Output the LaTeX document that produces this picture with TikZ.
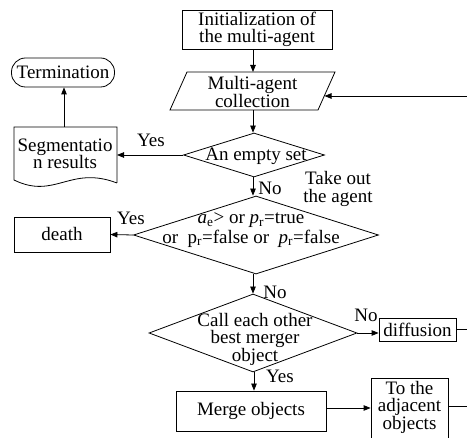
\documentclass[tikz,border=0pt]{standalone}
\usepackage{fontspec}
\setmainfont{Liberation Serif}
\usetikzlibrary{shapes.geometric,arrows.meta}
\begin{document}
\begin{tikzpicture}[x=1pt,y=-1pt,
  every node/.style={font=\fontsize{19}{17.5}\selectfont, inner sep=0pt, align=center},
  box/.style={draw, line width=0.8pt},
  dia/.style={draw, diamond, line width=0.8pt, inner sep=0pt},
  lab/.style={font=\fontsize{19}{17.5}\selectfont},
  arr/.style={line width=0.8pt, -{Triangle[length=7pt,width=5.5pt]}},
  ln/.style={line width=0.8pt}]
\useasboundingbox (0,0) rectangle (467,438);
\clip (0,0) rectangle (467,438);
% init
\node[box, minimum width=150, minimum height=39] (init) at (257,29.5) {Initialization of\\the multi-agent};
% collection parallelogram
\node[minimum width=148, minimum height=38] (coll) at (252.5,92) {Multi-agent\\collection};
\draw[ln] (187,72) -- (335,72) -- (318,110) -- (170,110) -- cycle;
\coordinate (collin) at (324.5,96);
\coordinate (loopR) at (467,96);
% termination
\node[box, rounded corners=14, minimum width=103, minimum height=29] (term) at (63,72.5) {Termination};
% segmentation document
\node (seg) at (65,154) {Segmentatio\\n results};
\draw[ln] (117,183) -- (117,127) -- (14,127) -- (14,180) .. controls (55,200) and (70,165) .. (117,183);
\coordinate (segtop) at (64,127);
\coordinate (segright) at (117,155);
% diamond 1
\node[dia, minimum width=141, minimum height=44] (d1) at (254,155) {};
\node at (256,156) {An empty set};
% diamond 2
\node[dia, minimum width=245, minimum height=78] (d2) at (256,235) {};
\node (d2a) at (251,220) {\textit{a}\textsubscript{e}> or \textit{p}\textsubscript{r}=true};
\node (d2b) at (251,238.5) {or\ \ p\textsubscript{r}=false or\ \ \textit{p}\textsubscript{r}=false};
% death
\node[box, minimum width=96, minimum height=35] (death) at (62,234.5) {death};
% diamond 3
\node[dia, minimum width=208, minimum height=78] (d3) at (253,333) {};
\node at (255,339) {Call each other\\best merger\\object};
% diffusion
\node[box, minimum width=77, minimum height=23] (diff) at (417.5,329.5) {diffusion};
\coordinate (diffR) at (467,329.5);
% merge
\node[box, minimum width=150, minimum height=40] (merge) at (251,411) {Merge objects};
% adjacent
\node[box, minimum width=77, minimum height=64, anchor=north] (adj) at (409.5,378) {};
\node at (409.5,407) {To the\\adjacent\\objects};
\coordinate (adjR) at (467,406);
% connectors
\draw[arr] (init.south -| 253,0) -- (253,72);
\draw[arr] (253,110) -- (d1.north -| 253,0);
\draw[arr] (loopR) -- (collin);
\draw[arr] (segtop) -- (term.south -| segtop);
\draw[arr] (d1.west) -- (segright);
\draw[arr] (d1.south -| 253,0) -- (d2.north -| 253,0);
\draw[arr] (d2.west) -- (death.east);
\draw[arr] (d2.south -| 253,0) -- (d3.north -| 253,0);
\draw[arr] (d3.east) -- (diff.west |- d3.east);
\draw[ln] (diff.east) -- (diffR);
\draw[arr] (d3.south -| 254,0) -- (merge.north -| 254,0);
\draw[arr] (merge.east |- 0,408) -- (adj.west |- 0,408);
\draw[ln] (adj.east |- adjR) -- (adjR);
% labels
\node[lab] at (151,140) {Yes};
\node[lab] at (270,188) {No};
\node[lab] at (338,189) {Take out\\the agent};
\node[lab] at (131,218) {Yes};
\node[lab] at (275,292) {No};
\node[lab] at (366,315) {No};
\node[lab] at (280,376) {Yes};
\end{tikzpicture}
\end{document}
